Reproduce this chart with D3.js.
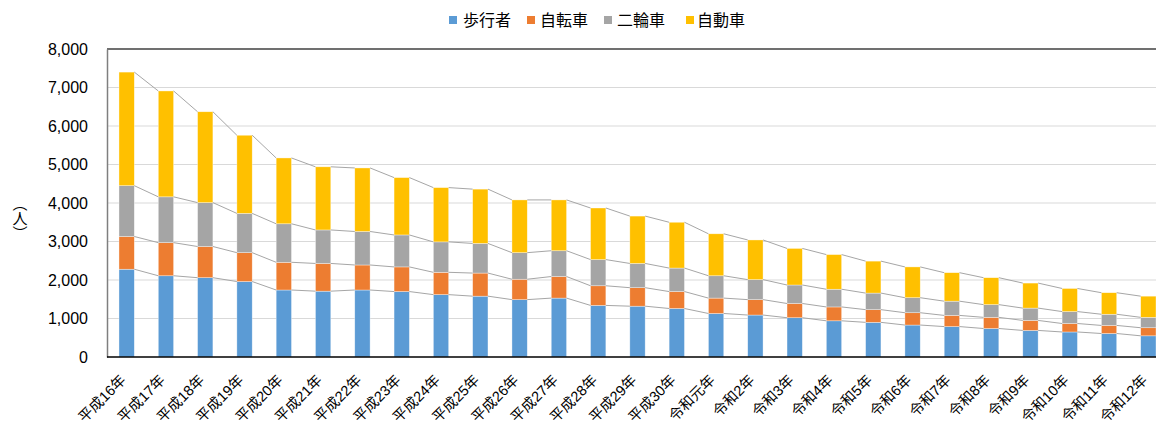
<!DOCTYPE html>
<html lang="ja">
<head>
    <meta charset="UTF-8">
    <script src="https://d3js.org/d3.v7.min.js"></script>
    <title>状態別死者数</title>
    <style>
        body { margin: 0; background: #fff; }
        svg text { font-family: "Liberation Sans", "Noto Sans CJK JP", sans-serif; fill: #000; }
    </style>
</head>
<body>
    <svg id="chart"></svg>
    <script>
        // data
        const years = ["平成16年","平成17年","平成18年","平成19年","平成20年","平成21年","平成22年","平成23年","平成24年","平成25年","平成26年","平成27年","平成28年","平成29年","平成30年","令和元年","令和2年","令和3年","令和4年","令和5年","令和6年","令和7年","令和8年","令和9年","令和10年","令和11年","令和12年"];
        const pedestrian = [2280,2110,2060,1960,1740,1710,1740,1700,1620,1580,1490,1530,1340,1320,1260,1130,1090,1020,940,900,830,790,740,690,650,610,550];
        const bicycle = [850,860,810,750,720,720,650,640,580,600,530,560,510,480,440,400,400,370,360,330,320,290,290,260,220,210,210];
        const motorcycle = [1320,1190,1140,1020,1000,870,870,830,790,770,690,670,680,630,610,580,520,480,460,430,390,370,330,320,310,290,270];
        const car = [2950,2750,2360,2030,1710,1640,1650,1490,1410,1410,1370,1320,1340,1230,1190,1090,1030,950,900,830,800,740,700,650,600,560,550];
        const seriesNames = ["歩行者","自転車","二輪車","自動車"];
        const yTicks = [0,1000,2000,3000,4000,5000,6000,7000,8000];

        const w = 1156;
        const h = 428;
        const colors = ["#5b9bd5","#ed7d31","#a5a5a5","#ffc000"];

        const rows = years.map((y, i) => ({
            year: y, "歩行者": pedestrian[i], "自転車": bicycle[i], "二輪車": motorcycle[i], "自動車": car[i]
        }));
        const stacked = d3.stack().keys(seriesNames)(rows);

        const svg = d3.select("#chart")
            .attr("width", w)
            .attr("height", h);

        const x = d3.scaleBand()
            .domain(years)
            .range([107, 1168])
            .paddingInner(0.61)
            .paddingOuter(0.305);

        const y = d3.scaleLinear()
            .domain([0, 8000])
            .range([357, 49]);

        // gridlines (top one is darker, like the plot border)
        svg.append("g")
            .selectAll("line")
            .data(yTicks.slice(1))
            .join("line")
            .attr("x1", 107)
            .attr("x2", w)
            .attr("y1", d => y(d))
            .attr("y2", d => y(d))
            .attr("stroke", d => d === 8000 ? "#404040" : "#d9d9d9")
            .attr("stroke-width", d => d === 8000 ? 1.3 : 1.2);

        // bars
        const layer = svg.append("g")
            .selectAll("g")
            .data(stacked)
            .join("g")
            .attr("fill", (d, i) => colors[i]);

        layer.selectAll("rect")
            .data(d => d)
            .join("rect")
            .attr("x", d => x(d.data.year))
            .attr("width", x.bandwidth())
            .attr("y", d => y(d[1]))
            .attr("height", d => y(d[0]) - y(d[1]))
            .attr("stroke", "#ffffff")
            .attr("stroke-opacity", 0.6)
            .attr("stroke-width", 0.6);

        // series lines between bars
        svg.append("g")
            .selectAll("g")
            .data(stacked)
            .join("g")
            .selectAll("line")
            .data(d => d.slice(0, -1).map((p, i) => [p, d[i + 1]]))
            .join("line")
            .attr("x1", d => x(d[0].data.year) + x.bandwidth())
            .attr("x2", d => x(d[1].data.year))
            .attr("y1", d => y(d[0][1]))
            .attr("y2", d => y(d[1][1]))
            .attr("stroke", "#a6a6a6")
            .attr("stroke-width", 1);

        // y axis
        const yAxis = svg.append("g")
            .attr("transform", "translate(107,0)")
            .call(d3.axisLeft(y).tickValues(yTicks).tickSize(0).tickPadding(19).tickFormat(d3.format(",")));
        yAxis.select(".domain").attr("stroke", "#7f7f7f").attr("stroke-width", 1.5);
        yAxis.selectAll("text").attr("font-size", 16).attr("fill", "#000");

        // x axis
        const xAxis = svg.append("g")
            .attr("transform", "translate(0,357)")
            .call(d3.axisBottom(x).tickSize(0).tickPadding(0));
        xAxis.select(".domain").attr("stroke", "#000").attr("stroke-width", 1.5)
            .attr("d", "M107,0H" + w);
        xAxis.selectAll("text")
            .attr("font-size", 14.5)
            .attr("text-anchor", "end")
            .attr("dy", 0)
            .attr("transform", "translate(0,24) rotate(-45)");

        // y axis title, vertical writing
        svg.append("text")
            .attr("x", 20)
            .attr("y", 218)
            .attr("font-size", 15)
            .attr("text-anchor", "middle")
            .style("writing-mode", "vertical-rl")
            .style("font-family", "'Noto Sans CJK JP', sans-serif")
            .text("（人）");

        // legend
        const legendSq = [449, 527, 604, 686];
        const legendTx = [463, 540, 617, 697];
        const legend = svg.append("g")
            .selectAll("g")
            .data(seriesNames)
            .join("g");
        legend.append("rect")
            .attr("x", (d, i) => legendSq[i])
            .attr("y", 16)
            .attr("width", 8)
            .attr("height", 8)
            .attr("fill", (d, i) => colors[i]);
        legend.append("text")
            .attr("x", (d, i) => legendTx[i])
            .attr("y", 26)
            .attr("font-size", 16)
            .text(d => d);
    </script>
</body>
</html>
